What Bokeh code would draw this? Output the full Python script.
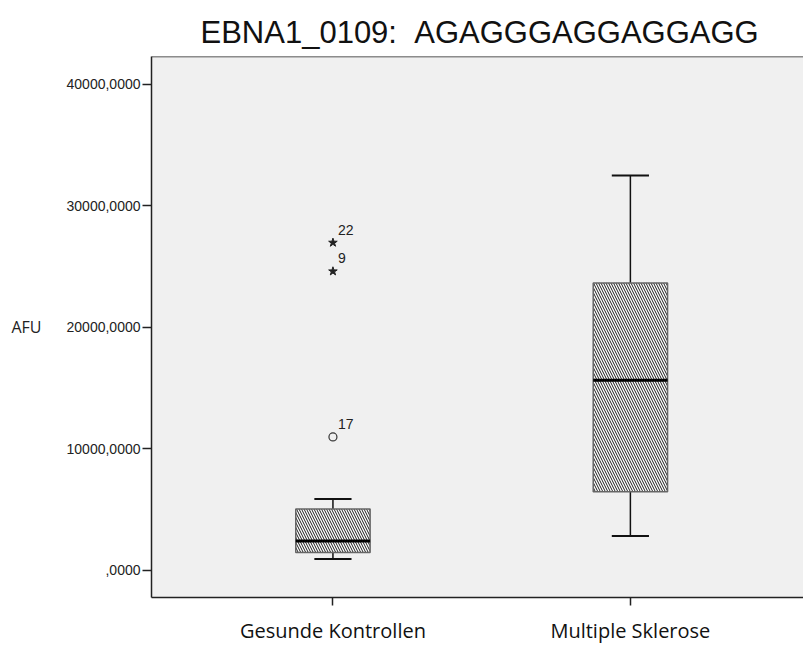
from bokeh.plotting import figure
from bokeh.models import (FixedTicker, CustomJSTickFormatter, Span, Range1d,
                          ColumnDataSource)
from bokeh.core.properties import value
from bokeh.embed import file_html
from bokeh.resources import INLINE

# ---- data ----
categories = ["Gesunde Kontrollen", "Multiple Sklerose"]
lower_whisker = [900, 2800]
q1 = [1450, 6440]
median = [2390, 15620]
q3 = [5020, 23630]
upper_whisker = [5840, 32480]

outlier_group = [0, 0, 0]          # index into categories
outlier_value = [26950, 24590, 10960]
outlier_label = ["22", "9", "17"]
outlier_kind = ["extreme", "extreme", "mild"]

y_ticks = [0, 10000, 20000, 30000, 40000]
title_text = "EBNA1_0109:  AGAGGGAGGAGGAGG"
y_label = "AFU"

# ---- layout constants ----
BOX_W = 0.25
CAP_W = 0.125
Y_MIN, Y_MAX = -2260, 42270

xs = [i + 1 for i in range(len(categories))]

p = figure(width=803, height=646, output_backend="svg", toolbar_location=None,
           x_range=Range1d(0.39, 2.582), y_range=Range1d(Y_MIN, Y_MAX),
           min_border_left=151, min_border_right=0, min_border_top=56,
           min_border_bottom=48)

p.background_fill_color = "#f0f0f0"
p.border_fill_color = "white"
p.outline_line_color = None
p.grid.visible = False

# title (keep the double space visible in SVG)
p.title.text = title_text.replace("  ", " \u00a0")
p.title.text_font = "Liberation Sans"
p.title.text_font_size = "31px"
p.title.text_font_style = "normal"
p.title.text_color = "#111111"
p.title.align = "left"
p.title.offset = 49
p.title.standoff = 14

# top frame edge
p.add_layout(Span(location=Y_MAX, dimension="width", line_color="#222222",
                  line_width=1.5))

# boxes
src = ColumnDataSource(dict(x=xs, q1=q1, q3=q3, med=median,
                            lo=lower_whisker, hi=upper_whisker,
                            cl=[x - CAP_W / 2 for x in xs],
                            cr=[x + CAP_W / 2 for x in xs],
                            bl=[x - BOX_W / 2 for x in xs],
                            br=[x + BOX_W / 2 for x in xs]))

p.segment(x0="x", y0="q3", x1="x", y1="hi", source=src, line_color="#111111", line_width=1.5)
p.segment(x0="x", y0="q1", x1="x", y1="lo", source=src, line_color="#111111", line_width=1.5)
p.segment(x0="cl", y0="hi", x1="cr", y1="hi", source=src, line_color="#111111", line_width=2)
p.segment(x0="cl", y0="lo", x1="cr", y1="lo", source=src, line_color="#111111", line_width=2)

p.vbar(x="x", width=BOX_W, bottom="q1", top="q3", source=src,
       fill_color="white", line_color="#666666", line_width=1.5,
       hatch_pattern="\\", hatch_color="#1a1a1a", hatch_scale=5, hatch_weight=1.0)

p.segment(x0="bl", y0="med", x1="br", y1="med", source=src, line_color="black", line_width=3)

# outliers
ox = [xs[g] for g in outlier_group]
ext = [i for i, k in enumerate(outlier_kind) if k == "extreme"]
mild = [i for i, k in enumerate(outlier_kind) if k == "mild"]
p.scatter(x=[ox[i] for i in ext], y=[outlier_value[i] for i in ext], marker="star",
          size=9, fill_color="#222222", line_color="#222222")
p.scatter(x=[ox[i] for i in mild], y=[outlier_value[i] for i in mild], marker="circle",
          size=8, fill_color=None, line_color="#333333", line_width=1.2)
p.text(x=ox, y=outlier_value, text=outlier_label, x_offset=5, y_offset=-13,
       text_baseline="alphabetic", text_align="left",
       text_font=value("Liberation Sans"), text_font_size="14px", text_color="#222222")

# y axis
ya = p.yaxis[0]
ya.ticker = FixedTicker(ticks=y_ticks)
ya.formatter = CustomJSTickFormatter(code="""
    let s = tick.toFixed(4).replace('.', ',');
    if (s.startsWith('0,')) { s = s.substring(1); }
    return s;
""")
ya.major_label_text_font = "Liberation Sans"
ya.major_label_text_font_size = "14px"
ya.major_label_text_color = "#222222"
ya.major_tick_out = 9
ya.major_tick_in = 0
ya.minor_tick_out = 0
ya.minor_tick_in = 0
ya.major_label_standoff = 2
ya.axis_line_color = "#222222"
ya.axis_line_width = 1.5
ya.major_tick_line_color = "#222222"
ya.major_tick_line_width = 1.5
ya.axis_label = y_label
ya.axis_label_orientation = "horizontal"
ya.axis_label_text_font = "Open Sans"
ya.axis_label_text_font_size = "16px"
ya.axis_label_text_font_style = "normal"
ya.axis_label_text_color = "#222222"
ya.axis_label_standoff = 22

# x axis
xa = p.xaxis[0]
xa.ticker = FixedTicker(ticks=xs)
xa.major_label_overrides = {x: c for x, c in zip(xs, categories)}
xa.major_label_text_font = "Open Sans"
xa.major_label_text_font_size = "20px"
xa.major_label_text_color = "#111111"
xa.major_tick_out = 8
xa.major_tick_in = 0
xa.minor_tick_out = 0
xa.minor_tick_in = 0
xa.major_label_standoff = 11
xa.axis_line_color = "#222222"
xa.axis_line_width = 1.5
xa.major_tick_line_color = "#222222"
xa.major_tick_line_width = 1.5

open("out.html", "w").write(file_html(p, INLINE))
